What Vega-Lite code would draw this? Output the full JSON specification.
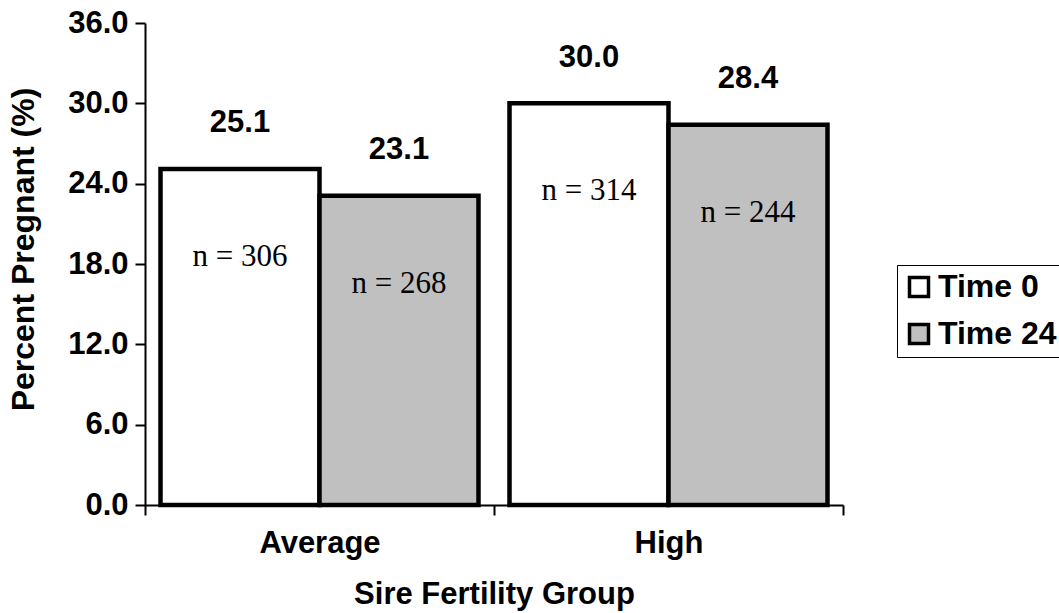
{
  "$schema": "https://vega.github.io/schema/vega-lite/v6.json",
  "autosize": {"type": "none"},
  "padding": {"left": 145, "top": 23, "right": 216, "bottom": 108},
  "width": 698,
  "height": 482,
  "background": "white",
  "config": {"view": {"stroke": null}},
  "data": {
    "values": [
      {"group": "Average", "time": "Time 0", "pct": 25.1, "nText": "n = 306"},
      {"group": "Average", "time": "Time 24", "pct": 23.1, "nText": "n = 268"},
      {"group": "High", "time": "Time 0", "pct": 30.0, "nText": "n = 314"},
      {"group": "High", "time": "Time 24", "pct": 28.4, "nText": "n = 244"}
    ]
  },
  "encoding": {
    "x": {
      "field": "group", "type": "nominal",
      "scale": {"paddingInner": 0, "paddingOuter": 0},
      "axis": {
        "title": "Sire Fertility Group",
        "labelAngle": 0,
        "tickBand": "extent",
        "domainColor": "black", "domainWidth": 2,
        "tickColor": "black", "tickWidth": 2, "tickSize": 10,
        "labelPadding": 13,
        "labelFont": "Liberation Sans", "labelFontSize": 31, "labelFontWeight": "bold", "labelColor": "black",
        "titleFont": "Liberation Sans", "titleFontSize": 31, "titleFontWeight": "bold", "titleColor": "black",
        "titleBaseline": "alphabetic", "titleX": 349, "titleY": 98, "titleAnchor": "middle"
      }
    },
    "xOffset": {"field": "time", "type": "nominal", "scale": {"paddingInner": 0, "paddingOuter": 0.0975}},
    "y": {
      "field": "pct", "type": "quantitative",
      "scale": {"domain": [0, 36], "nice": false},
      "axis": {
        "title": "Percent Pregnant (%)",
        "values": [0, 6, 12, 18, 24, 30, 36],
        "format": ".1f",
        "grid": false,
        "domainColor": "black", "domainWidth": 2,
        "tickColor": "black", "tickWidth": 2, "tickSize": 10,
        "labelPadding": 7,
        "labelFont": "Liberation Sans", "labelFontSize": 31, "labelFontWeight": "bold", "labelColor": "black",
        "titleFont": "Liberation Sans", "titleFontSize": 32, "titleFontWeight": "bold", "titleColor": "black",
        "titleAngle": -90, "titleBaseline": "alphabetic", "titleAlign": "center",
        "titleX": -112, "titleY": 226
      }
    }
  },
  "layer": [
    {
      "mark": {"type": "bar", "stroke": "black", "strokeWidth": 4.5},
      "encoding": {
        "color": {
          "field": "time", "type": "nominal",
          "scale": {"domain": ["Time 0", "Time 24"], "range": ["#ffffff", "#c0c0c0"]},
          "legend": {
            "title": null,
            "orient": "none",
            "legendX": 752,
            "legendY": 242,
            "padding": 6,
            "strokeColor": "black",
            "fillColor": "white",
            "symbolType": "square",
            "symbolSize": 361,
            "symbolStrokeColor": "black",
            "symbolStrokeWidth": 3.5,
            "symbolOpacity": 1,
            "rowPadding": 13,
            "labelOffset": 3,
            "labelFont": "Liberation Sans",
            "labelFontSize": 32,
            "labelFontWeight": "bold",
            "labelColor": "black"
          }
        }
      }
    },
    {
      "mark": {"type": "text", "baseline": "alphabetic", "dy": -36.5, "font": "Liberation Sans", "fontSize": 31, "fontWeight": "bold", "color": "black"},
      "encoding": {"text": {"field": "pct", "type": "quantitative", "format": ".1f"}}
    },
    {
      "mark": {"type": "text", "baseline": "alphabetic", "dy": 97, "font": "Liberation Serif", "fontSize": 31, "color": "black"},
      "encoding": {"text": {"field": "nText", "type": "nominal"}}
    }
  ]
}
